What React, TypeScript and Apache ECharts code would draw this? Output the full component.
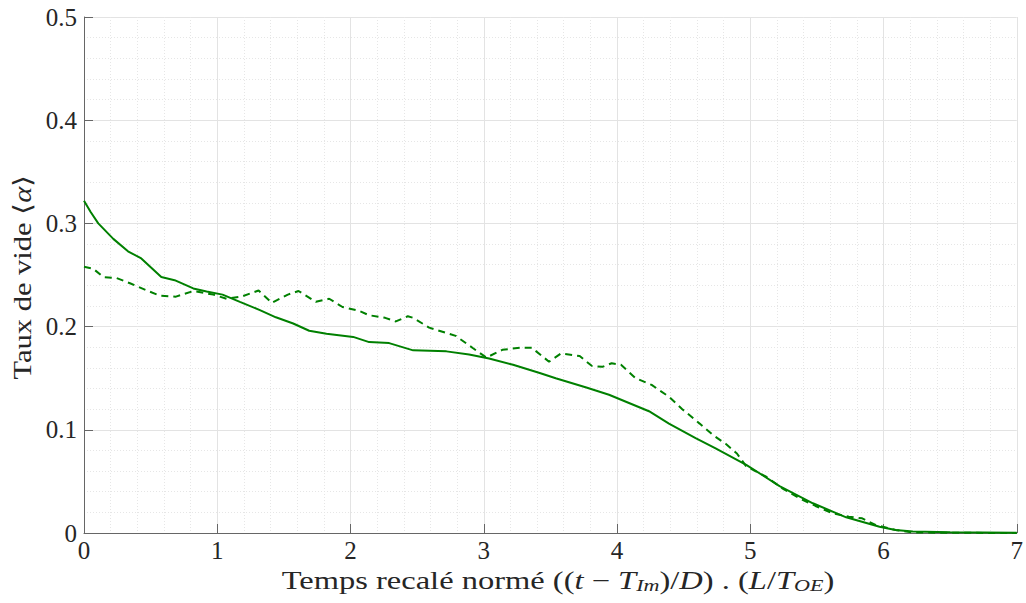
import React, { useEffect, useRef } from "react";
import * as echarts from "echarts";

const solidX = [0, 0.05, 0.107, 0.22, 0.33, 0.43, 0.58, 0.68, 0.82, 0.92, 1.04, 1.17, 1.32, 1.44, 1.57, 1.69, 1.82, 2.02, 2.14, 2.29, 2.47, 2.72, 2.89, 3.04, 3.22, 3.42, 3.54, 3.77, 3.94, 4.09, 4.24, 4.39, 4.59, 4.74, 4.97, 5.22, 5.47, 5.72, 5.97, 6.09, 6.22, 6.5, 7.0];
const solidY = [0.322, 0.311, 0.3, 0.285, 0.273, 0.266, 0.248, 0.245, 0.237, 0.234, 0.231, 0.224, 0.216, 0.209, 0.203, 0.196, 0.193, 0.19, 0.185, 0.184, 0.177, 0.176, 0.173, 0.169, 0.163, 0.155, 0.15, 0.141, 0.134, 0.126, 0.118, 0.106, 0.092, 0.082, 0.066, 0.0455, 0.0288, 0.0152, 0.0061, 0.003, 0.0015, 0.0008, 0.0003];

const dashedX = [0, 0.07, 0.145, 0.245, 0.345, 0.47, 0.57, 0.69, 0.82, 0.97, 1.07, 1.18, 1.31, 1.41, 1.53, 1.61, 1.74, 1.84, 1.94, 2.06, 2.14, 2.26, 2.34, 2.43, 2.47, 2.59, 2.69, 2.79, 2.92, 3.02, 3.14, 3.27, 3.36, 3.49, 3.58, 3.72, 3.81, 3.89, 3.96, 4.03, 4.14, 4.26, 4.39, 4.49, 4.62, 4.72, 4.82, 4.9, 4.97, 5.12, 5.24, 5.37, 5.49, 5.62, 5.74, 5.84, 5.94, 6.09, 6.22, 6.5, 7.0];
const dashedY = [0.258, 0.256, 0.248, 0.247, 0.242, 0.235, 0.23, 0.229, 0.2345, 0.231, 0.227, 0.229, 0.235, 0.223, 0.231, 0.2345, 0.224, 0.227, 0.219, 0.2155, 0.211, 0.2085, 0.205, 0.21, 0.2085, 0.199, 0.195, 0.191, 0.179, 0.17, 0.1775, 0.1795, 0.1795, 0.166, 0.174, 0.1715, 0.162, 0.161, 0.1645, 0.163, 0.15, 0.1435, 0.132, 0.12, 0.106, 0.095, 0.086, 0.077, 0.0645, 0.0545, 0.0433, 0.0336, 0.0262, 0.019, 0.0158, 0.0142, 0.0078, 0.003, 0.0005, 0.0002, 0.0];

const xTicks = [0, 1, 2, 3, 4, 5, 6, 7];
const yTicks = [0, 0.1, 0.2, 0.3, 0.4, 0.5];

const xTitle = "Temps recalé normé (({i|t} − {i|T}{sub|Im})/{i|D}) . ({i|L}/{i|T}{sub|OE})";
const yTitle = "Taux de vide ⟨{i|α}⟩";

const FONT = "Liberation Serif";
const GREEN = "#008000";
const TEXT = "#262626";

export default function App() {
  const ref = useRef<HTMLDivElement>(null);
  useEffect(() => {
    if (!ref.current) return;
    const chart = echarts.init(ref.current, undefined, { renderer: "svg" });
    const axisCommon = {
      axisLine: { show: true, onZero: false, lineStyle: { color: "#666", width: 1 } },
      axisTick: { show: true, inside: true, length: 9, lineStyle: { color: "#666" } },
      splitLine: { show: true, lineStyle: { color: "#e3e3e3", width: 1 } },
      minorTick: { show: false, splitNumber: 5 },
      minorSplitLine: { show: true, lineStyle: { color: "#e6e6e6", type: [1, 2], width: 1 } },
    };
    const rich = {
      i: { fontFamily: FONT, fontSize: 25, fontStyle: "italic", fill: TEXT, color: TEXT },
      sub: { fontFamily: FONT, fontSize: 17, fontStyle: "italic", fill: TEXT, color: TEXT, padding: [10, 0, 0, 0] },
    };
    chart.setOption({
      animation: false,
      backgroundColor: "#fff",
      grid: { left: 84, right: 8, top: 17, bottom: 70, containLabel: false },
      xAxis: {
        type: "value",
        min: xTicks[0],
        max: xTicks[xTicks.length - 1],
        interval: 1,
        ...axisCommon,
        axisLabel: { color: TEXT, fontFamily: FONT, fontSize: 25, margin: 5 },
      },
      yAxis: {
        type: "value",
        min: yTicks[0],
        max: yTicks[yTicks.length - 1],
        interval: 0.1,
        ...axisCommon,
        axisLabel: { color: TEXT, fontFamily: FONT, fontSize: 25, margin: 7 },
      },
      graphic: [
        {
          type: "text",
          x: 558,
          y: 580,
          scaleX: 1.3,
          silent: true,
          style: {
            text: xTitle,
            fontFamily: FONT,
            fontSize: 25,
            fill: TEXT,
            align: "center",
            verticalAlign: "middle",
            textAlign: "center",
            textVerticalAlign: "middle",
            rich,
          },
        },
        {
          type: "text",
          x: 22,
          y: 277,
          rotation: Math.PI / 2,
          scaleX: 1.22,
          silent: true,
          style: {
            text: yTitle,
            fontFamily: FONT,
            fontSize: 25,
            fill: TEXT,
            align: "center",
            verticalAlign: "middle",
            textAlign: "center",
            textVerticalAlign: "middle",
            rich,
          },
        },
      ],
      series: [
        {
          type: "line",
          data: solidX.map((x, i) => [x, solidY[i]]),
          showSymbol: false,
          symbol: "none",
          lineStyle: { color: GREEN, width: 2 },
          z: 3,
        },
        {
          type: "line",
          data: dashedX.map((x, i) => [x, dashedY[i]]),
          showSymbol: false,
          symbol: "none",
          lineStyle: { color: GREEN, width: 2, type: [7, 5] },
          z: 3,
        },
      ],
    });
    return () => chart.dispose();
  }, []);
  return (
    <div
      ref={ref}
      style={{ position: "fixed", left: 0, top: 0, width: 1026, height: 603, background: "#fff" }}
    />
  );
}
